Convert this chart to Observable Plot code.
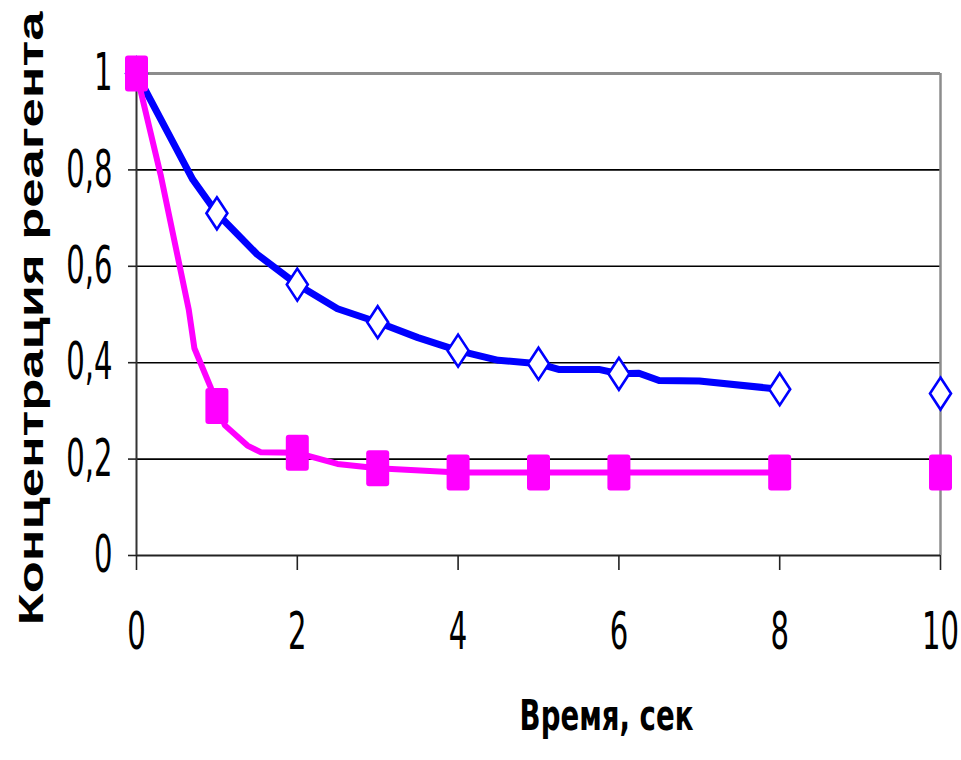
<!DOCTYPE html>
<html>
<head>
<meta charset="utf-8">
<script src="https://cdn.jsdelivr.net/npm/d3@7"></script>
<script src="https://cdn.jsdelivr.net/npm/@observablehq/plot@0.6"></script>
<style>
  html, body { margin: 0; padding: 0; background: #fff; }
</style>
</head>
<body>
<div id="chart"></div>
<script>
// ---- data ----
const xTicks = [0, 2, 4, 6, 8, 10];
const yTicks = [0, 0.2, 0.4, 0.6, 0.8, 1];
const yTickLabels = ["0", "0,2", "0,4", "0,6", "0,8", "1"];
const xLabel = "Время, сек";
const yLabel = "Концентрация реагента";

// marker points
const times = [0, 1, 2, 3, 4, 5, 6, 8, 10];
const seriesBlue = [1, 0.71, 0.562, 0.484, 0.425, 0.398, 0.377, 0.345, 0.336];
const seriesMagenta = [1, 0.31, 0.213, 0.181, 0.172, 0.172, 0.172, 0.172, 0.172];

// drawn (smoothed) line traces
const lineBlueX = [0, 0.7, 1, 1.5, 2, 2.5, 3, 3.5, 4, 4.5, 5, 5.25, 5.75, 6, 6.25, 6.5, 7, 8];
const lineBlueY = [1, 0.78, 0.71, 0.625, 0.562, 0.512, 0.484, 0.452, 0.425, 0.405, 0.398, 0.386, 0.386, 0.377, 0.378, 0.363, 0.362, 0.345];
const lineMagentaX = [0, 0.3, 0.65, 0.72, 0.92, 1, 1.1, 1.38, 1.55, 2, 2.5, 3, 4, 8];
const lineMagentaY = [1, 0.79, 0.51, 0.43, 0.35, 0.31, 0.27, 0.228, 0.214, 0.213, 0.19, 0.181, 0.172, 0.172];

const blue = "#0000ff";
const magenta = "#ff00ff";

const pointsBlue = times.map((t, i) => ({t, v: seriesBlue[i]}));
const pointsMagenta = times.map((t, i) => ({t, v: seriesMagenta[i]}));
const traceBlue = lineBlueX.map((t, i) => ({t, v: lineBlueY[i]}));
const traceMagenta = lineMagentaX.map((t, i) => ({t, v: lineMagentaY[i]}));

// tall symbols (the reference is horizontally compressed)
const tallSquare = {
  draw(ctx) {
    const w = 11.5, h = 18, r = 3;
    ctx.moveTo(-w + r, -h);
    ctx.lineTo(w - r, -h);
    ctx.arcTo(w, -h, w, -h + r, r);
    ctx.lineTo(w, h - r);
    ctx.arcTo(w, h, w - r, h, r);
    ctx.lineTo(-w + r, h);
    ctx.arcTo(-w, h, -w, h - r, r);
    ctx.lineTo(-w, -h + r);
    ctx.arcTo(-w, -h, -w + r, -h, r);
    ctx.closePath();
  }
};
const tallDiamond = {
  draw(ctx) {
    const w = 10.5, h = 16;
    ctx.moveTo(0, -h);
    ctx.lineTo(w, 0);
    ctx.lineTo(0, h);
    ctx.lineTo(-w, 0);
    ctx.closePath();
  }
};

const chart = Plot.plot({
  width: 961,
  height: 760,
  marginLeft: 136,
  marginRight: 21,
  marginTop: 73,
  marginBottom: 205,
  style: {background: "#fff", fontFamily: "'DejaVu Sans', sans-serif", color: "#000"},
  x: {domain: [0, 10]},
  y: {domain: [0, 1]},
  marks: [
    Plot.gridY(yTicks.slice(1, 5), {stroke: "#000", strokeOpacity: 1, strokeWidth: 1.6}),
    Plot.ruleY([1], {stroke: "#8c8c8c", strokeWidth: 3}),
    Plot.ruleX([10], {stroke: "#8c8c8c", strokeWidth: 2.5}),
    Plot.ruleY([0], {stroke: "#222", strokeWidth: 2.2}),
    Plot.ruleX([0], {stroke: "#333", strokeWidth: 2}),
    Plot.axisY({
      ticks: yTicks,
      tickFormat: d => yTickLabels[yTicks.indexOf(d)],
      tickSize: 8, tickPadding: 16, fontSize: 52,
      stroke: "#222", strokeWidth: 1.6, fill: "#000", label: null
    }),
    Plot.axisX({
      ticks: xTicks,
      tickSize: 15, tickPadding: 42, fontSize: 52,
      stroke: "#222", strokeWidth: 1.6, fill: "#000", label: null
    }),
    Plot.line(traceBlue, {x: "t", y: "v", stroke: blue, strokeWidth: 7, strokeLinejoin: "round", strokeLinecap: "round"}),
    Plot.dot(pointsBlue, {x: "t", y: "v", symbol: tallDiamond, r: 5, stroke: blue, strokeWidth: 2.6, fill: "#fff"}),
    Plot.line(traceMagenta, {x: "t", y: "v", stroke: magenta, strokeWidth: 6, strokeLinejoin: "round", strokeLinecap: "round"}),
    Plot.dot(pointsMagenta, {x: "t", y: "v", symbol: tallSquare, r: 5, fill: magenta, stroke: "none"}),
    Plot.text([xLabel], {
      frameAnchor: "bottom", dx: 68, dy: 174,
      fontSize: 42.5, fontWeight: "bold", fill: "#000", textAnchor: "middle",
      fontFamily: "'DejaVu Sans', sans-serif"
    }),
    Plot.text([yLabel], {
      frameAnchor: "left", dx: -105, dy: 4,
      rotate: -90, fontSize: 52.5, fontWeight: "bold", fill: "#000", textAnchor: "middle",
      fontFamily: "'Liberation Sans', Arial, sans-serif"
    })
  ]
});

function squeezeNode(t, extra) {
  let tr = t.getAttribute("transform");
  if (tr == null) {
    const x = parseFloat(t.getAttribute("x") || 0);
    const yAttr = t.getAttribute("y");
    let y = 0;
    if (yAttr && !/em$/.test(yAttr)) { y = parseFloat(yAttr); t.removeAttribute("y"); }
    t.removeAttribute("x");
    tr = `translate(${x},${y})`;
  }
  t.setAttribute("transform", tr + " " + extra);
}
chart.querySelectorAll('g[aria-label="y-axis tick label"] text').forEach(t => squeezeNode(t, "scale(0.56,1)"));
chart.querySelectorAll('g[aria-label="x-axis tick label"] text').forEach(t => squeezeNode(t, "scale(0.56,1)"));
chart.querySelectorAll("text").forEach(t => {
  if (t.textContent === xLabel) squeezeNode(t, "scale(0.65,1)");
  else if (t.textContent === yLabel) squeezeNode(t, "scale(1,0.67)");
});

document.getElementById("chart").appendChild(chart);
</script>
</body>
</html>
